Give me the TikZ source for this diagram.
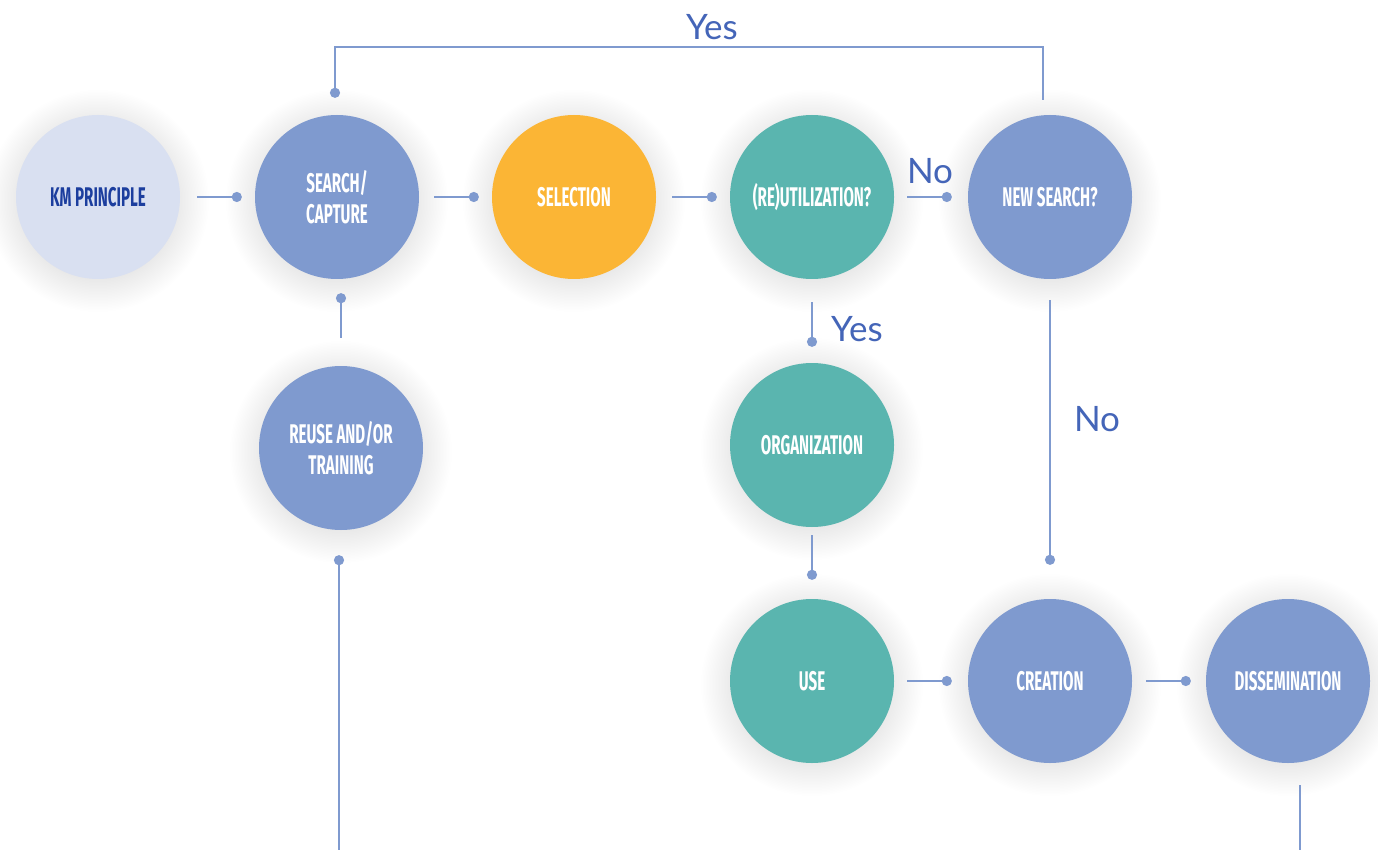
\documentclass[tikz,border=0pt]{standalone}
\usepackage{fontspec}
\usetikzlibrary{arrows.meta,backgrounds}
\newfontfamily\condfont[FakeStretch=0.56]{Fira Sans}
\newfontfamily\labfont{Lato}
\definecolor{cblue}{HTML}{7F9ACF}
\definecolor{clight}{HTML}{D9E0F1}
\definecolor{cteal}{HTML}{5AB5AF}
\definecolor{corange}{HTML}{FBB535}
\definecolor{ctextdark}{HTML}{1C3E9E}
\definecolor{clab}{HTML}{4465B8}
\definecolor{cline}{HTML}{7F9ACF}
\begin{document}
\begin{tikzpicture}[x=1pt,y=-1pt,
  stage/.style={circle,minimum size=164pt,inner sep=0pt,text=white,align=center,
    font=\condfont\bfseries\fontsize{27}{31}\selectfont},
  bluestage/.style={stage,fill=cblue},
  tealstage/.style={stage,fill=cteal},
  conn/.style={draw=cline,line width=2.6pt,-{Circle[length=10pt,width=10pt]}},
  plainconn/.style={draw=cline,line width=2.6pt},
  startdot/.style={draw=cline,line width=2.6pt,{Circle[length=10pt,width=10pt]}-},
  lab/.style={text=clab,font=\labfont\fontsize{35}{40}\selectfont,inner sep=0pt},
  shadowring/.style={fill=black,opacity=0.005}
]
\useasboundingbox (0,0) rectangle (1378,850);

\node[stage,fill=clight,text=ctextdark] (km) at (98,197) {KM PRINCIPLE};
\node[bluestage] (search) at (337,197) {SEARCH/\\CAPTURE};
\node[stage,fill=corange] (sel) at (574,197) {SELECTION};
\node[tealstage] (reutil) at (812,197) {(RE)UTILIZATION?};
\node[bluestage] (news) at (1050,197) {NEW SEARCH?};
\node[bluestage] (reuse) at (341,448) {REUSE AND/OR\\TRAINING};
\node[tealstage] (org) at (812,445) {ORGANIZATION};
\node[tealstage] (use) at (812,681) {USE};
\node[bluestage] (crea) at (1050,681) {CREATION};
\node[bluestage] (diss) at (1288,681) {DISSEMINATION};

\begin{scope}[on background layer]
  \fill[white] (0,0) rectangle (1378,850);
  \foreach \n in {km,search,sel,reutil,news,reuse,org,use,crea,diss}{
    \foreach \r in {78,79.5,...,112}{
      \fill[shadowring] ([yshift=-4pt]\n.center) circle[radius=\r pt];
    }
  }
\end{scope}

\draw[conn,shorten <=17pt,shorten >=13pt] (km) -- (search);
\draw[conn,shorten <=15pt,shorten >=13pt] (search) -- (sel);
\draw[conn,shorten <=16pt,shorten >=13pt] (sel) -- (reutil);
\draw[conn,shorten <=13pt,shorten >=16pt] (reutil) -- (news);
\draw[conn,shorten <=13pt,shorten >=16pt] (use) -- (crea);
\draw[conn,shorten <=14pt,shorten >=15pt] (crea) -- (diss);
\draw[conn,shorten <=23pt,shorten >=16pt] (reutil) -- (org);
\draw[conn,shorten <=8pt,shorten >=19pt] (org) -- (use);
\draw[conn,shorten <=21pt,shorten >=34pt] (news) -- (crea);
\draw[conn] ([xshift=0pt,yshift=28pt]reuse.north) -- ([xshift=4pt,yshift=-14pt]search.south);

\coordinate (c1) at (1043,47);
\coordinate (c2) at (335,47);
\draw[conn] ([xshift=-7pt,yshift=15pt]news.north) -- (c1) -- (c2) -- ([xshift=-2pt,yshift=17pt]search.north);

\coordinate (b1) at (339,852);
\draw[startdot] ([xshift=-2pt,yshift=-25pt]reuse.south) -- (b1);
\coordinate (b2) at (1300,852);
\draw[plainconn] ([xshift=12pt,yshift=-22pt]diss.south) -- (b2);

\node[lab] (l1) at (712,27) {Yes};
\node[lab] (l2) at (930,171) {No};
\node[lab] (l3) at (857,329) {Yes};
\node[lab] (l4) at (1097,419) {No};
\end{tikzpicture}
\end{document}
